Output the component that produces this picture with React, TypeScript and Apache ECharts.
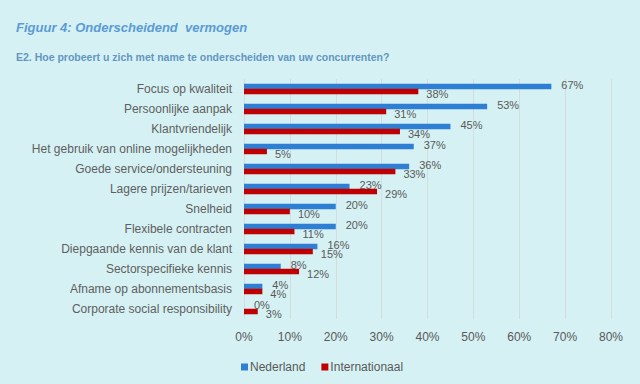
import React, { useEffect, useRef } from "react";
import * as echarts from "echarts";

const categories = [
  "Focus op kwaliteit",
  "Persoonlijke aanpak",
  "Klantvriendelijk",
  "Het gebruik van online mogelijkheden",
  "Goede service/ondersteuning",
  "Lagere prijzen/tarieven",
  "Snelheid",
  "Flexibele contracten",
  "Diepgaande kennis van de klant",
  "Sectorspecifieke kennis",
  "Afname op abonnementsbasis",
  "Corporate social responsibility",
];
const nederland = [67, 53, 45, 37, 36, 23, 20, 20, 16, 8, 4, 0];
const internationaal = [38, 31, 34, 5, 33, 29, 10, 11, 15, 12, 4, 3];

export default function App() {
  const ref = useRef<HTMLDivElement>(null);
  useEffect(() => {
    if (!ref.current) return;
    const chart = echarts.init(ref.current, null, { renderer: "svg" });
    const font = "'Liberation Sans', Arial, sans-serif";
    chart.setOption({
      animation: false,
      backgroundColor: "#d5f1f3",
      textStyle: { fontFamily: font },
      title: [
        {
          text: "Figuur 4: Onderscheidend  vermogen",
          left: 11,
          top: 16,
          textStyle: { fontFamily: font, fontStyle: "italic", fontWeight: "bold", fontSize: 13, color: "#5b9bd5" },
        },
        {
          text: "E2. Hoe probeert u zich met name te onderscheiden van uw concurrenten?",
          left: 11,
          top: 46,
          textStyle: { fontFamily: font, fontWeight: "bold", fontSize: 10.5, color: "#6496c3" },
        },
      ],
      legend: {
        left: 236,
        top: 356,
        icon: "rect",
        itemWidth: 7,
        itemHeight: 7,
        itemGap: 16,
        textStyle: { fontFamily: font, fontSize: 12, color: "#595959", padding: [0, 0, 0, -3] },
        data: ["Nederland", "Internationaal"],
      },
      grid: { left: 244, right: 29, top: 79, height: 240 },
      xAxis: {
        type: "value",
        min: 0,
        max: 80,
        interval: 10,
        axisLine: { show: false },
        axisTick: { show: false },
        axisLabel: { formatter: "{value}%", color: "#595959", fontSize: 12, margin: 12, fontFamily: font },
        splitLine: { lineStyle: { color: "#d4dcdd", width: 1 } },
      },
      yAxis: {
        type: "category",
        inverse: true,
        data: categories,
        axisLine: { show: false },
        axisTick: { show: false },
        axisLabel: { color: "#5f5f5f", fontSize: 12, margin: 12, fontFamily: font },
      },
      series: [
        {
          name: "Nederland",
          type: "bar",
          data: nederland,
          barWidth: 5.5,
          barGap: "-10%",
          itemStyle: { color: "#2e7fd3" },
          label: { show: true, position: "right", distance: 10, formatter: "{c}%", color: "#595959", fontSize: 11, offset: [0, -2], fontFamily: font },
        },
        {
          name: "Internationaal",
          type: "bar",
          data: internationaal,
          barWidth: 5.5,
          itemStyle: { color: "#c00000" },
          label: { show: true, position: "right", distance: 8, formatter: "{c}%", color: "#595959", fontSize: 11, offset: [0, 3], fontFamily: font },
        },
      ],
    });
    return () => chart.dispose();
  }, []);
  return <div ref={ref} style={{ position: "fixed", left: 0, top: 0, width: 640, height: 384 }} />;
}
